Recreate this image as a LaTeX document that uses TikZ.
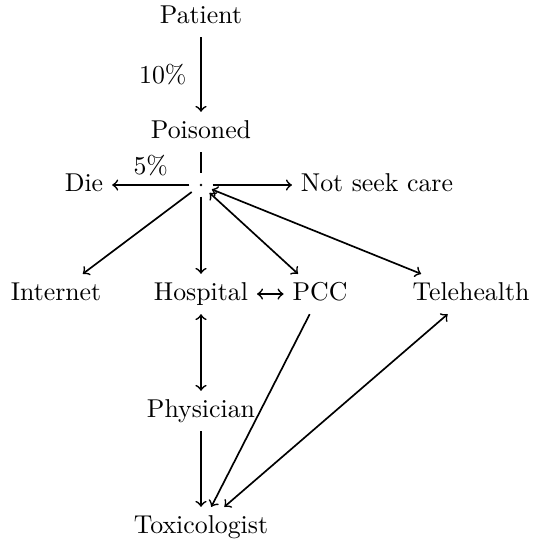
\documentclass[tikz,border=0pt]{standalone}
\usepackage{amsmath,amssymb}
\usepackage{xcolor}
\usepackage{tikz}
\usetikzlibrary{calc}
\tikzset{
  state/.style={inner sep=3.3pt, text height=1.6ex, text depth=0.4ex},
  hub/.style={circle, fill=black, inner sep=0.35pt, outer sep=4pt},
  flow/.style={draw, line width=0.65pt, ->},
  both/.style={draw, line width=0.65pt, <->},
  plain/.style={draw, line width=0.65pt},
  pct/.style={font=\normalsize},
}

\begin{document}
\begin{tikzpicture}[x=0.3876pt, y=-0.3876pt]
  \useasboundingbox (0,0) rectangle (533,542);
  % people and places
  \node[state] (patient)  at (201,17)  {Patient};
  \node[state] (poisoned) at (201,132) {Poisoned};
  \node[hub]   (split)    at (201,185) {};
  \node[state] (die)      at (84,185)  {Die};
  \node[state] (noseek)   at (377,185) {Not seek care};
  \node[state] (internet) at (56,294)  {Internet};
  \node[state] (hospital) at (201,294) {Hospital};
  \node[state] (pcc)      at (320,294) {PCC};
  \node[state] (tele)     at (471,294) {Telehealth};
  \node[state] (phys)     at (201,411) {Physician};
  \node[state] (tox)      at (201,527) {Toxicologist};
  % connectors
  \draw[flow] (patient) -- node[pct, left, xshift=-2pt] {10\%} (poisoned);
  \draw[plain] (poisoned) -- (split);
  \draw[flow] (split) -- node[pct, above] {5\%} (die);
  \draw[flow] (split) -- (noseek);
  \draw[flow] (split) -- (internet);
  \draw[flow] (split) -- (hospital);
  \draw[both] (split) -- (pcc);
  \draw[both] (split) -- (tele);
  \draw[both] (hospital) -- (pcc);
  \draw[both] (hospital) -- (phys);
  \draw[flow] (phys) -- (tox);
  \draw[flow] (pcc) -- (tox);
  \draw[both] (tele) -- (tox);
\end{tikzpicture}
\end{document}
